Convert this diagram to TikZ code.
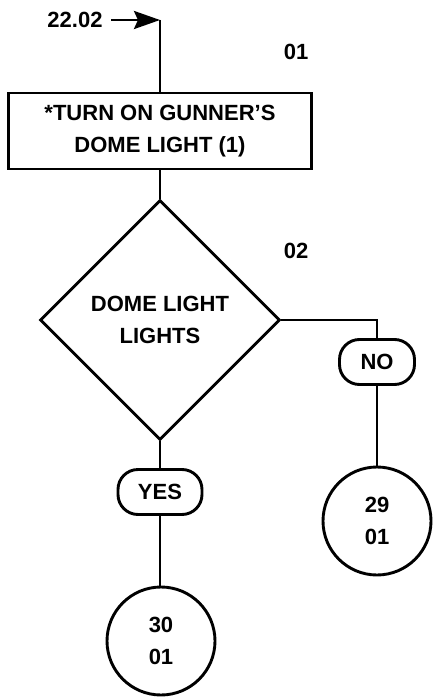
\documentclass[tikz,border=0pt]{standalone}
\usepackage{fontspec}
\setmainfont{Liberation Sans}
\usetikzlibrary{shapes.geometric,arrows.meta}
\begin{document}
\begin{tikzpicture}[x=1pt,y=-1pt,line width=2.9pt,
  txt/.style={font=\bfseries\fontsize{22}{32}\selectfont,align=center},
  procbox/.style={txt,draw,minimum width=303pt,minimum height=76pt,inner sep=0pt},
  dia/.style={txt,draw,diamond,shape aspect=1,minimum width=240pt,minimum height=240pt,inner sep=0pt},
  term/.style={txt,draw,rounded corners=20pt,minimum width=75pt,minimum height=45pt,inner sep=0pt},
  conn/.style={txt,draw,circle,minimum size=108pt,inner sep=0pt}]
\useasboundingbox (0,0) rectangle (432,698);
\node[txt] (lab) at (75,20) {22.02};
\coordinate (c) at (160,20);
\node[txt] (n1) at (296,52) {01};
\node[procbox] (box) at (160,131) {*TURN ON GUNNER'S\\DOME LIGHT (1)};
\node[txt] (n2) at (296,251) {02};
\node[dia] (d) at (160,320) {DOME LIGHT\\LIGHTS};
\node[term] (no) at (377,362) {NO};
\node[term,minimum width=84pt] (yes) at (160,492) {YES};
\node[conn] (c29) at (377,521) {29\\01};
\node[conn] (c30) at (161,641) {30\\01};
\draw[-{Stealth[length=26pt,width=18pt,inset=4pt]},shorten <=4pt] (lab.east) -- (c);
\draw (c) -- (box.north);
\draw (box.south) -- (d.north);
\draw (d.east) -| (no.north);
\draw (no.south) -- (c29.north);
\draw (d.south) -- (yes.north);
\draw (yes.south) -- (yes.south |- c30.north);
\end{tikzpicture}
\end{document}
